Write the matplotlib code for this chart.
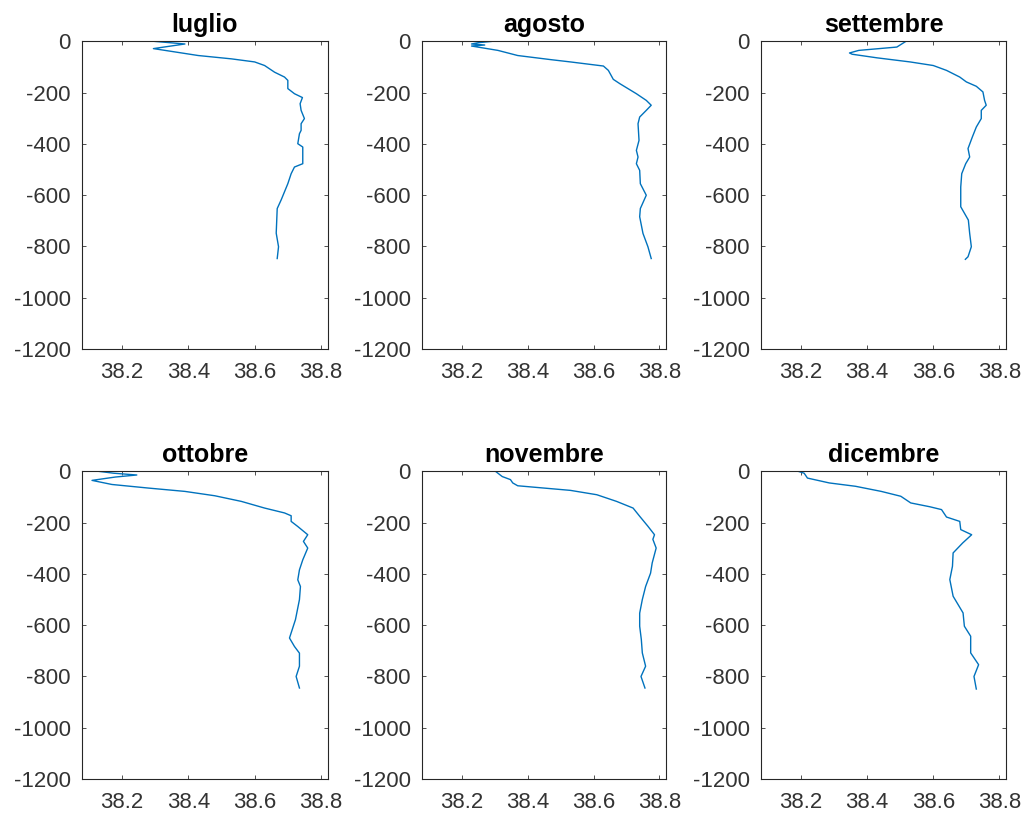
import numpy as np
import matplotlib.pyplot as plt

plt.rcParams['font.family'] = ['Liberation Sans', 'DejaVu Sans']
plt.rcParams['axes.unicode_minus'] = False

months = ["luglio", "agosto", "settembre", "ottobre", "novembre", "dicembre"]

# salinity (x) vs depth (y)
lug_s = [38.30, 38.39, 38.295, 38.43, 38.53, 38.60, 38.63, 38.66, 38.69, 38.70, 38.70, 38.72,
         38.744, 38.737, 38.74, 38.75, 38.74, 38.74, 38.735, 38.73, 38.745, 38.745, 38.72,
         38.71, 38.70, 38.68, 38.668, 38.665, 38.672, 38.668]
lug_d = [0, -10, -28, -55, -68, -80, -94, -120, -139, -152, -184, -204,
         -219, -243, -269, -301, -321, -347, -360, -399, -412, -477, -490,
         -516, -555, -618, -652, -748, -801, -847]

ago_s = [38.29, 38.25, 38.23, 38.27, 38.23, 38.31, 38.37, 38.47, 38.53, 38.63, 38.645, 38.66,
         38.68, 38.73, 38.76, 38.775, 38.76, 38.74, 38.735, 38.738, 38.73, 38.735, 38.73,
         38.74, 38.742, 38.76, 38.742, 38.74, 38.75, 38.765, 38.775]
ago_d = [0, -5, -10, -14, -18, -35, -55, -71, -80, -96, -113, -148,
         -165, -204, -230, -249, -269, -295, -321, -386, -425, -451, -477,
         -503, -555, -600, -652, -684, -749, -801, -847]

set_s = [38.517, 38.49, 38.375, 38.347, 38.355, 38.43, 38.53, 38.60, 38.64, 38.68, 38.70, 38.73,
         38.75, 38.755, 38.76, 38.745, 38.745, 38.73, 38.718, 38.705, 38.71, 38.698, 38.686,
         38.683, 38.683, 38.706, 38.71, 38.715, 38.705, 38.697]
set_d = [0, -22, -35, -45, -50, -64, -80, -94, -113, -139, -158, -175,
         -197, -230, -249, -269, -301, -334, -373, -418, -451, -477, -516,
         -568, -645, -697, -749, -801, -840, -850]

ott_s = [38.132, 38.175, 38.245, 38.18, 38.11, 38.17, 38.28, 38.39, 38.48, 38.56, 38.63, 38.69,
         38.71, 38.71, 38.73, 38.76, 38.747, 38.76, 38.745, 38.735, 38.73, 38.738, 38.735,
         38.723, 38.71, 38.705, 38.72, 38.735, 38.735, 38.725, 38.735]
ott_d = [0, -7, -14, -22, -35, -51, -65, -78, -95, -117, -143, -162,
         -173, -195, -215, -247, -273, -299, -345, -384, -423, -449, -500,
         -578, -630, -650, -683, -709, -760, -800, -845]

nov_s = [38.303, 38.323, 38.348, 38.355, 38.37, 38.45, 38.53, 38.61, 38.67, 38.72, 38.74, 38.765,
         38.785, 38.78, 38.79, 38.778, 38.773, 38.758, 38.748, 38.74, 38.74, 38.745, 38.748,
         38.758, 38.744, 38.756]
nov_d = [0, -20, -32, -45, -56, -65, -74, -91, -117, -143, -175, -214,
         -247, -265, -299, -357, -397, -449, -500, -553, -604, -656, -708,
         -760, -800, -845]

dic_s = [38.193, 38.21, 38.22, 38.286, 38.365, 38.443, 38.502, 38.532, 38.59, 38.625, 38.64, 38.68,
         38.683, 38.716, 38.689, 38.66, 38.658, 38.65, 38.66, 38.69, 38.694, 38.713, 38.713,
         38.737, 38.723, 38.73]
dic_d = [0, -7, -26, -45, -58, -78, -97, -123, -138, -149, -178, -195,
         -227, -247, -279, -318, -370, -422, -487, -552, -604, -643, -708,
         -754, -800, -849]

profiles = [(lug_s, lug_d), (ago_s, ago_d), (set_s, set_d),
            (ott_s, ott_d), (nov_s, nov_d), (dic_s, dic_d)]

fig = plt.figure(figsize=(10.32, 8.17), dpi=100)

lefts = [0.0795, 0.409, 0.7375]
widths = [0.238, 0.2364, 0.2374]
bottoms = [0.5728, 0.0465]
height = 0.3765

for i, name in enumerate(months):
    r, c = divmod(i, 3)
    ax = fig.add_axes([lefts[c], bottoms[r], widths[c], height])
    s, d = profiles[i]
    ax.plot(s, d, color='#0072BD', linewidth=1.0)
    ax.set_xlim(38.08, 38.82)
    ax.set_ylim(-1200, 0)
    ax.set_xticks([38.2, 38.4, 38.6, 38.8])
    ax.set_yticks(np.arange(-1200, 1, 200))
    ax.set_title(name, fontsize=18, fontweight='bold', pad=7)
    ax.tick_params(direction='in', top=True, right=True, length=3, width=0.6,
                   labelsize=16, colors='#333333')
    ax.tick_params(axis='x', pad=9)
    ax.tick_params(axis='y', pad=8)
    for sp in ax.spines.values():
        sp.set_color('#262626')
        sp.set_linewidth(0.8)
    for lab in ax.get_xticklabels():
        lab.set_clip_on(False)

fig.savefig("out.png", dpi=100)
